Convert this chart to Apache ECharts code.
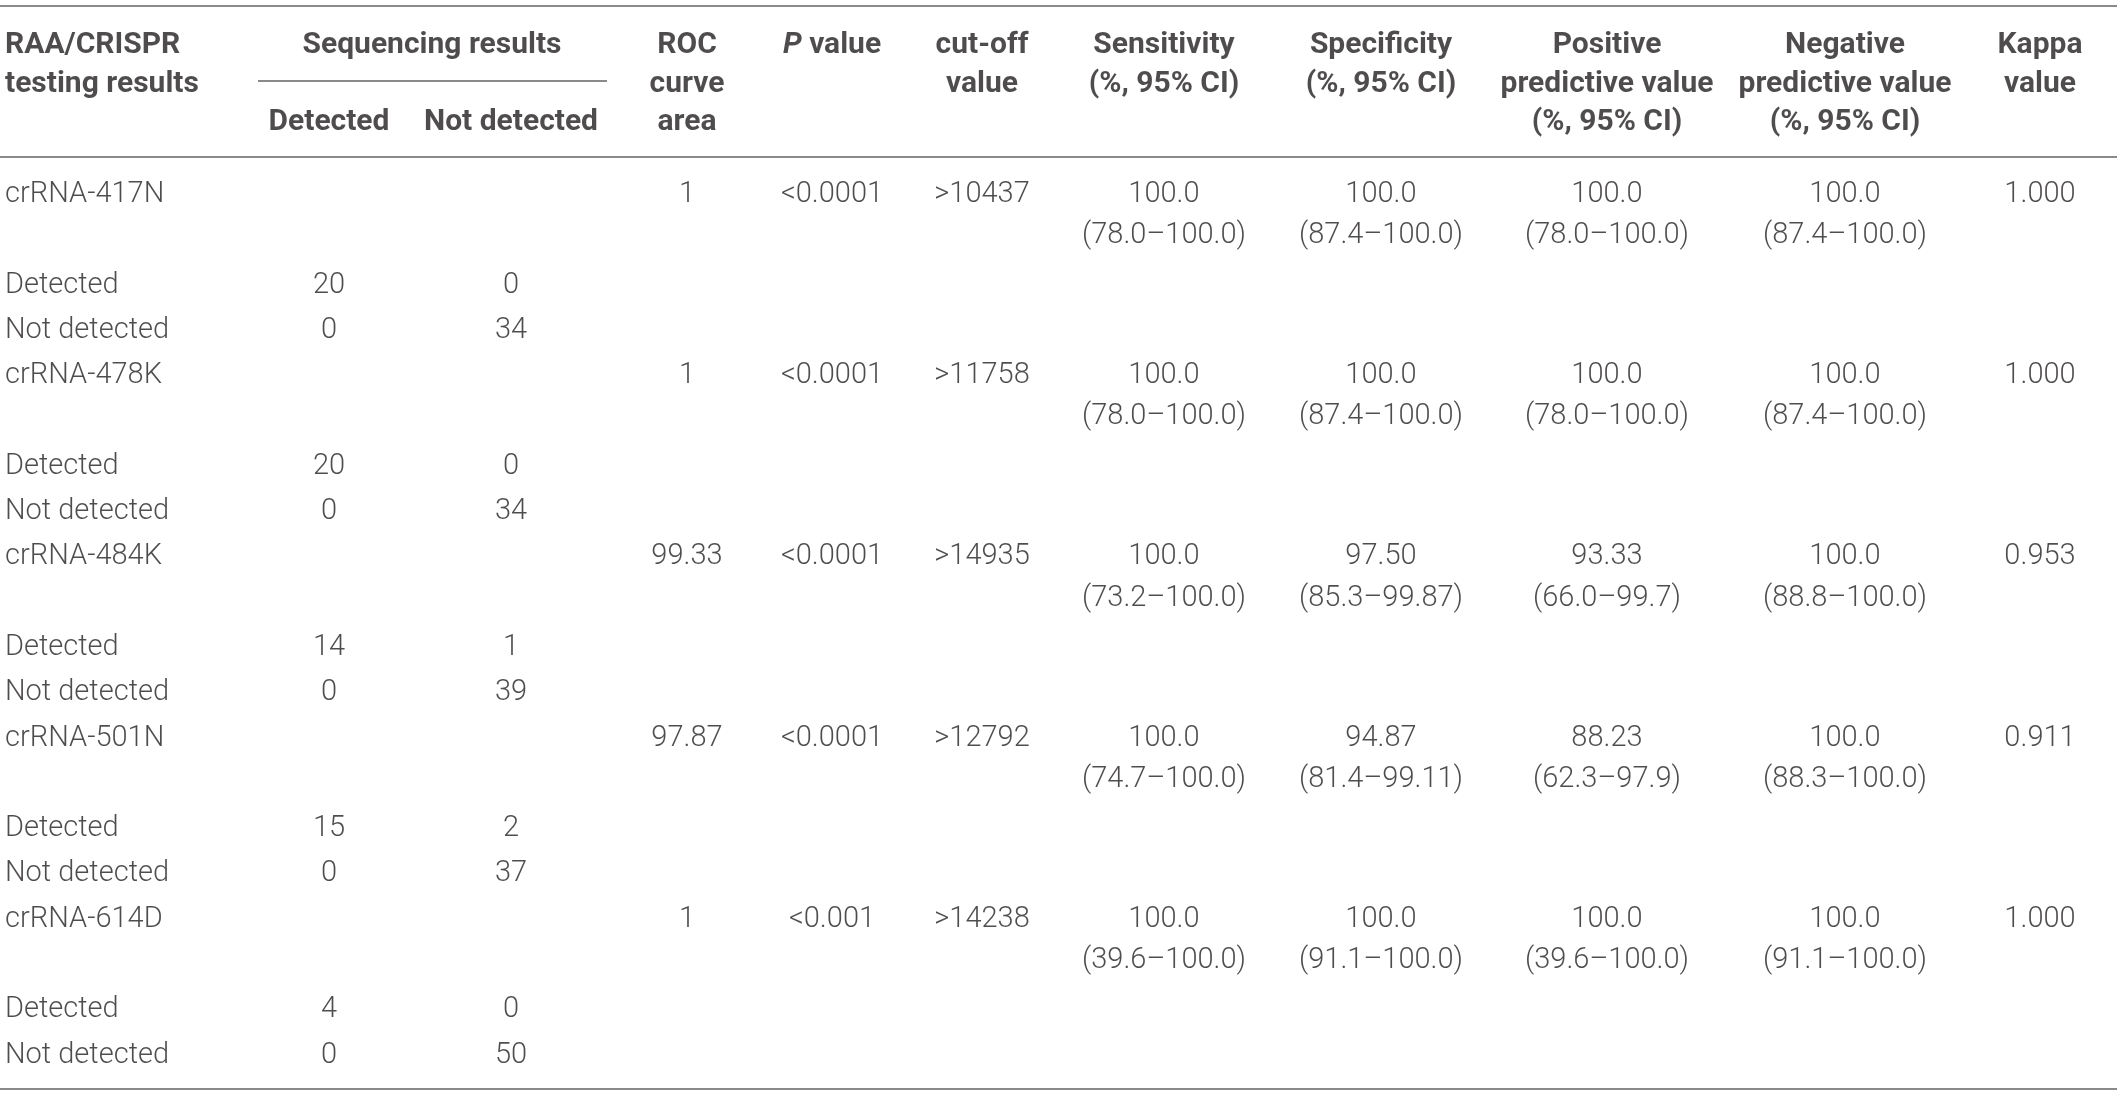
<!DOCTYPE html>
<html>
<head>
<meta charset="utf-8">
<script src="https://cdn.jsdelivr.net/npm/echarts@6/dist/echarts.min.js"></script>
<style>
  html, body { margin: 0; padding: 0; background: #fff; }
  #main { width: 2117px; height: 1094px; }
</style>
</head>
<body>
<div id="main"></div>
<script>
// table values
const assays = ['crRNA-417N', 'crRNA-478K', 'crRNA-484K', 'crRNA-501N', 'crRNA-614D'];
const rocArea = ['1', '1', '99.33', '97.87', '1'];
const pValues = ['<0.0001', '<0.0001', '<0.0001', '<0.0001', '<0.001'];
const cutoffs = ['>10437', '>11758', '>14935', '>12792', '>14238'];
const sensitivity = ['100.0', '100.0', '100.0', '100.0', '100.0'];
const sensitivityCI = ['(78.0–100.0)', '(78.0–100.0)', '(73.2–100.0)', '(74.7–100.0)', '(39.6–100.0)'];
const specificity = ['100.0', '100.0', '97.50', '94.87', '100.0'];
const specificityCI = ['(87.4–100.0)', '(87.4–100.0)', '(85.3–99.87)', '(81.4–99.11)', '(91.1–100.0)'];
const ppv = ['100.0', '100.0', '93.33', '88.23', '100.0'];
const ppvCI = ['(78.0–100.0)', '(78.0–100.0)', '(66.0–99.7)', '(62.3–97.9)', '(39.6–100.0)'];
const npv = ['100.0', '100.0', '100.0', '100.0', '100.0'];
const npvCI = ['(87.4–100.0)', '(87.4–100.0)', '(88.8–100.0)', '(88.3–100.0)', '(91.1–100.0)'];
const kappa = ['1.000', '1.000', '0.953', '0.911', '1.000'];
// sequencing counts: row "Detected" / "Not detected" x column "Detected" / "Not detected"
const rowLabels = ['Detected', 'Not detected'];
const detSeqDet = [20, 20, 14, 15, 4];
const detSeqNot = [0, 0, 1, 2, 0];
const notSeqDet = [0, 0, 0, 0, 0];
const notSeqNot = [34, 34, 39, 37, 50];

// header texts, one list of lines per column
const headers = [
  ['RAA/CRISPR', 'testing results'],
  ['', '', 'Detected'],
  ['', '', 'Not detected'],
  ['ROC', 'curve', 'area'],
  ['{it|P} value'],
  ['cut-off', 'value'],
  ['Sensitivity', '(%, 95% CI)'],
  ['Specificity', '(%, 95% CI)'],
  ['Positive', 'predictive value', '(%, 95% CI)'],
  ['Negative', 'predictive value', '(%, 95% CI)'],
  ['Kappa', 'value']
];
const spanHeader = 'Sequencing results';

// layout (column centres on a 0..2117 axis)
const colX = [5, 329, 511, 687, 832, 982, 1164, 1381, 1607, 1845, 2040];
const spanX = 432;

const textColor = '#231f20';
const ruleColor = '#8a8a8a';

const headLines = ['h0', 'h1', 'h2'];
const bodyLines = [];
assays.forEach((a, i) => { bodyLines.push('a' + i, 'ci' + i, 'd' + i, 'n' + i); });

function cell(x, line, text, left, extra) {
  const item = { value: [x, line, text] };
  if (left) item.label = { position: 'right', distance: 0 };
  if (extra) item.label = Object.assign(item.label || {}, extra);
  return item;
}

// header cells
const headData = [];
headers.forEach((lines, c) => {
  lines.forEach((t, r) => {
    if (t) headData.push(cell(colX[c], r, t, c === 0));
  });
});
headData.push(cell(spanX, 0, spanHeader, false));

// body cells
const bodyData = [];
assays.forEach((a, i) => {
  const r0 = i * 4;
  bodyData.push(cell(colX[0], r0, a, true));
  bodyData.push(cell(colX[3], r0, rocArea[i]));
  bodyData.push(cell(colX[4], r0, pValues[i]));
  bodyData.push(cell(colX[5], r0, cutoffs[i]));
  bodyData.push(cell(colX[6], r0, sensitivity[i]));
  bodyData.push(cell(colX[7], r0, specificity[i]));
  bodyData.push(cell(colX[8], r0, ppv[i]));
  bodyData.push(cell(colX[9], r0, npv[i]));
  bodyData.push(cell(colX[10], r0, kappa[i]));
  const ciShift = { offset: [0, -4] };
  bodyData.push(cell(colX[6], r0 + 1, sensitivityCI[i], false, ciShift));
  bodyData.push(cell(colX[7], r0 + 1, specificityCI[i], false, ciShift));
  bodyData.push(cell(colX[8], r0 + 1, ppvCI[i], false, ciShift));
  bodyData.push(cell(colX[9], r0 + 1, npvCI[i], false, ciShift));
  bodyData.push(cell(colX[0], r0 + 2, rowLabels[0], true));
  bodyData.push(cell(colX[1], r0 + 2, String(detSeqDet[i])));
  bodyData.push(cell(colX[2], r0 + 2, String(detSeqNot[i])));
  bodyData.push(cell(colX[0], r0 + 3, rowLabels[1], true));
  bodyData.push(cell(colX[1], r0 + 3, String(notSeqDet[i])));
  bodyData.push(cell(colX[2], r0 + 3, String(notSeqNot[i])));
});

const chart = echarts.init(document.getElementById('main'), null, { renderer: 'canvas' });

const hiddenX = { type: 'value', min: 0, max: 2117, show: false };

chart.setOption({
  backgroundColor: '#fff',
  animation: false,
  grid: [
    { left: 0, right: 0, top: 26, height: 116 },
    { left: 0, right: 0, top: 172, height: 906 }
  ],
  xAxis: [
    Object.assign({ gridIndex: 0 }, hiddenX),
    Object.assign({ gridIndex: 1 }, hiddenX)
  ],
  yAxis: [
    { gridIndex: 0, type: 'category', data: headLines, inverse: true, show: false },
    { gridIndex: 1, type: 'category', data: bodyLines, inverse: true, show: false }
  ],
  series: [
    {
      type: 'scatter',
      xAxisIndex: 0,
      yAxisIndex: 0,
      symbolSize: 0,
      silent: true,
      data: headData,
      label: {
        show: true,
        position: 'inside',
        formatter: p => p.data.value[2],
        color: textColor,
        fontFamily: 'Roboto',
        fontWeight: 'bold',
        fontSize: 30,
        rich: {
          it: { fontStyle: 'italic', fontWeight: 'bold', fontFamily: 'Roboto', fontSize: 30, color: textColor }
        }
      }
    },
    {
      type: 'scatter',
      xAxisIndex: 1,
      yAxisIndex: 1,
      symbolSize: 0,
      silent: true,
      data: bodyData,
      label: {
        show: true,
        position: 'inside',
        formatter: p => p.data.value[2],
        color: textColor,
        fontFamily: 'Roboto',
        fontWeight: 300,
        fontSize: 29
      }
    }
  ],
  graphic: [
    { type: 'line', shape: { x1: 0, y1: 6, x2: 2117, y2: 6 }, style: { stroke: ruleColor, lineWidth: 2 } },
    { type: 'line', shape: { x1: 258, y1: 81, x2: 607, y2: 81 }, style: { stroke: ruleColor, lineWidth: 2 } },
    { type: 'line', shape: { x1: 0, y1: 157, x2: 2117, y2: 157 }, style: { stroke: ruleColor, lineWidth: 2 } },
    { type: 'line', shape: { x1: 0, y1: 1089, x2: 2117, y2: 1089 }, style: { stroke: ruleColor, lineWidth: 2 } }
  ]
});
</script>
</body>
</html>
